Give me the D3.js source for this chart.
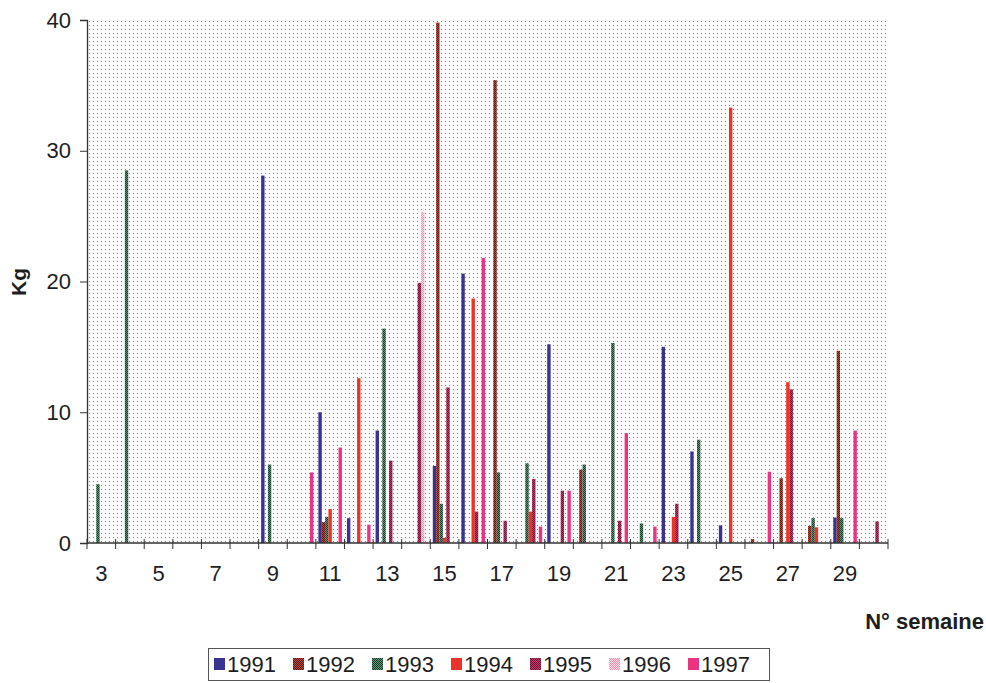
<!DOCTYPE html>
<html>
<head>
<meta charset="utf-8">
<script src="https://cdn.jsdelivr.net/npm/d3@7"></script>
<style>
  html, body { margin: 0; padding: 0; background: #ffffff; }
  svg { display: block; }
  text { font-family: "Liberation Sans", Arial, sans-serif; fill: #1e1e1e; }
</style>
</head>
<body>
<svg id="chart" width="986" height="683"></svg>
<script>
// Weekly catches (kg) per year, weeks 3 to 30
const weeks = d3.range(3, 31);
const years = ["1991", "1992", "1993", "1994", "1995", "1996", "1997"];
const tickWeeks = [3, 5, 7, 9, 11, 13, 15, 17, 19, 21, 23, 25, 27, 29];
const yTicks = [0, 10, 20, 30, 40];

// one value per week (3..30); null = no catch recorded
const v1991 = [null, null, null, null, null, null, 28.1, null, 10.0, 1.9, 8.6, null, 5.9, 20.6, null, null, 15.2, null, null, null, 15.0, 7.0, 1.35, null, null, null, 1.95, null];
const v1992 = [null, null, null, null, null, null, null, null, 1.6, null, null, null, 39.8, null, 35.4, null, null, 5.6, null, null, null, null, null, 0.3, 4.95, 1.3, 14.7, null];
const v1993 = [4.5, 28.5, null, null, null, null, 6.0, null, 2.0, null, 16.4, null, 3.0, null, 5.4, 6.1, null, 6.0, 15.3, 1.5, null, 7.9, null, null, null, 1.9, 1.9, null];
const v1994 = [null, null, null, null, null, null, null, null, 2.6, 12.6, null, null, 0.4, 18.7, null, 2.4, null, null, null, null, 2.0, null, 33.3, null, 12.3, 1.2, null, null];
const v1995 = [null, null, null, null, null, null, null, null, null, null, 6.3, 19.9, 11.9, 2.4, 1.7, 4.9, 4.0, null, 1.7, null, 3.0, null, null, null, 11.75, null, null, 1.65];
const v1996 = [null, null, null, null, null, null, null, null, null, null, null, 25.3, null, null, null, null, null, null, null, null, null, null, null, null, null, null, null, null];
const v1997 = [null, null, null, null, null, null, null, 5.4, 7.3, 1.4, null, null, null, 21.8, null, 1.25, 4.0, null, 8.4, 1.25, null, null, null, 5.45, null, null, 8.6, null];

const seriesValues = [v1991, v1992, v1993, v1994, v1995, v1996, v1997];

const svg = d3.select("#chart");
const defs = svg.append("defs");

// fill patterns: dotted plot background and checkered series fills
const bg = defs.append("pattern").attr("id", "dots")
  .attr("patternUnits", "userSpaceOnUse").attr("width", 4).attr("height", 4);
bg.append("rect").attr("width", 4).attr("height", 4).attr("fill", "#fbfbfb");
bg.append("rect").attr("x", 1).attr("y", 1).attr("width", 1).attr("height", 1).attr("fill", "#808080");

function checker(id, a, b) {
  const p = defs.append("pattern").attr("id", id)
    .attr("patternUnits", "userSpaceOnUse").attr("width", 2).attr("height", 2);
  p.append("rect").attr("width", 2).attr("height", 2).attr("fill", b);
  p.append("rect").attr("width", 1).attr("height", 1).attr("fill", a);
  p.append("rect").attr("x", 1).attr("y", 1).attr("width", 1).attr("height", 1).attr("fill", a);
}
checker("p1992", "#5a1814", "#b84a38");
checker("p1993", "#17352a", "#5e9a78");
checker("p1995", "#6e1032", "#c33b6c");
checker("p1996", "#f08cb0", "#fbe0ea");

const fills = {
  "1991": "#3a3290",
  "1992": "url(#p1992)",
  "1993": "url(#p1993)",
  "1994": "#ec3328",
  "1995": "url(#p1995)",
  "1996": "url(#p1996)",
  "1997": "#ea3381"
};

const plotLeft = 87, plotRight = 888, plotTop = 20, plotBottom = 543;

const x = d3.scaleBand().domain(weeks).range([plotLeft, plotRight]).paddingInner(0).paddingOuter(0);
const xs = d3.scaleBand().domain(years).range([0, x.bandwidth()]).paddingInner(0).paddingOuter(0.75);
const y = d3.scaleLinear().domain([0, 40]).range([plotBottom, plotTop]);

// plot area
svg.append("rect")
  .attr("x", plotLeft).attr("y", plotTop)
  .attr("width", plotRight - plotLeft).attr("height", plotBottom - plotTop)
  .attr("fill", "url(#dots)");

// bars
const rows = [];
years.forEach((yr, i) => {
  weeks.forEach((w, j) => {
    const v = seriesValues[i][j];
    if (v != null) rows.push({ year: yr, week: w, value: v });
  });
});

svg.append("g").selectAll("rect")
  .data(rows)
  .join("rect")
  .attr("x", d => x(d.week) + xs(d.year))
  .attr("width", xs.bandwidth())
  .attr("y", d => y(d.value))
  .attr("height", d => y(0) - y(d.value))
  .attr("fill", d => fills[d.year]);

// y axis
const yAxis = svg.append("g").attr("transform", `translate(${plotLeft},0)`)
  .call(d3.axisLeft(y).tickValues(yTicks).tickSize(7).tickPadding(9));
yAxis.select(".domain").attr("stroke", "#333").attr("stroke-width", 1.3);
yAxis.selectAll(".tick line").attr("stroke", "#333");
yAxis.selectAll(".tick text")
  .style("font-family", "'Liberation Sans', Arial, sans-serif")
  .style("font-size", "22px").attr("fill", "#222");

// x axis: ticks sit on the category boundaries, labels on odd weeks
const xAxisG = svg.append("g").attr("transform", `translate(0,${plotBottom})`);
xAxisG.append("line")
  .attr("x1", plotLeft).attr("x2", plotRight)
  .attr("stroke", "#333").attr("stroke-width", 1.3);
const boundaries = weeks.map(w => x(w)).concat([plotRight]);
xAxisG.selectAll("line.tk").data(boundaries).join("line")
  .attr("class", "tk")
  .attr("x1", d => d).attr("x2", d => d)
  .attr("y1", -4).attr("y2", 6)
  .attr("stroke", "#333");
xAxisG.selectAll("text").data(tickWeeks).join("text")
  .attr("x", d => x(d) + x.bandwidth() / 2)
  .attr("y", 38)
  .attr("text-anchor", "middle")
  .style("font-size", "22px")
  .text(d => d);

// axis titles
svg.append("text")
  .attr("transform", "translate(26,282) rotate(-90)")
  .attr("text-anchor", "middle")
  .style("font-size", "21px").style("font-weight", "bold")
  .text("Kg");

svg.append("text")
  .attr("x", 984).attr("y", 629)
  .attr("text-anchor", "end")
  .style("font-size", "22px").style("font-weight", "bold")
  .text("N° semaine");

// legend
const legend = svg.append("g");
legend.append("rect")
  .attr("x", 208.5).attr("y", 648.5)
  .attr("width", 561).attr("height", 32)
  .attr("fill", "#ffffff").attr("stroke", "#555").attr("stroke-width", 1);

const legendX = d3.scalePoint().domain(years).range([214, 688]);
const item = legend.selectAll("g.item").data(years).join("g")
  .attr("class", "item")
  .attr("transform", d => `translate(${legendX(d)},0)`);
item.append("rect")
  .attr("x", 0).attr("y", 658).attr("width", 11).attr("height", 12)
  .attr("fill", d => fills[d]);
item.append("text")
  .attr("x", 13).attr("y", 672)
  .style("font-size", "22px")
  .text(d => d);
</script>
</body>
</html>
